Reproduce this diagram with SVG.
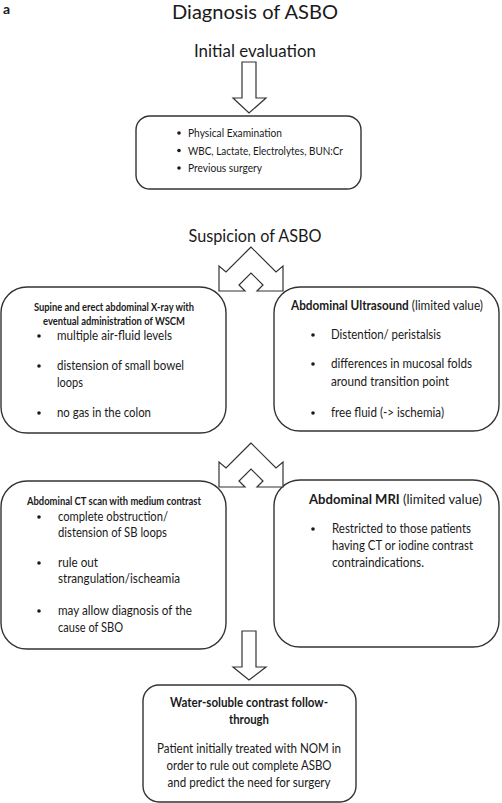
<svg xmlns="http://www.w3.org/2000/svg" width="502" height="803" viewBox="0 0 502 803">
<style>
text{font-family:Lato,"Liberation Sans",sans-serif;fill:#1a1a1a}
.box{fill:#fff;stroke:#333;stroke-width:1.4}
.arr{fill:#fff;stroke:#333;stroke-width:1.2;stroke-linejoin:miter}
.h1{font-size:18.5px}
.h2{font-size:17px}
.b{font-size:12.5px}
.bd{font-weight:bold}
.c{font-size:12px}
.m{font-size:13.5px}
.dot{fill:#1a1a1a}
</style>
<rect width="502" height="803" fill="#fff"/>
<g id="labels">
<text x="3" y="14" font-size="14" font-weight="bold">a</text>
<text x="255" y="19" class="h1" text-anchor="middle" textLength="166" lengthAdjust="spacingAndGlyphs">Diagnosis of ASBO</text>
<text x="255" y="57" class="h2" text-anchor="middle" textLength="122" lengthAdjust="spacingAndGlyphs">Initial evaluation</text>
<text x="255" y="242" class="h2" text-anchor="middle" textLength="133" lengthAdjust="spacingAndGlyphs">Suspicion of ASBO</text>
</g>
<g id="n-initial">
<rect class="box" x="136" y="116" width="225" height="73" rx="14"/>
<circle class="dot" cx="179" cy="133" r="1.8"/>
<circle class="dot" cx="179" cy="150.5" r="1.8"/>
<circle class="dot" cx="179" cy="168" r="1.8"/>
<text class="c" x="188" y="137" textLength="94" lengthAdjust="spacingAndGlyphs">Physical Examination</text>
<text class="c" x="188" y="154.5" textLength="155" lengthAdjust="spacingAndGlyphs">WBC, Lactate, Electrolytes, BUN:Cr</text>
<text class="c" x="188" y="172" textLength="74" lengthAdjust="spacingAndGlyphs">Previous surgery</text>
</g>
<g id="n-xray">
<rect class="box" x="1" y="287" width="225" height="146" rx="26"/>
<text class="c bd" x="114" y="311" text-anchor="middle" textLength="160" lengthAdjust="spacingAndGlyphs">Supine and erect abdominal X-ray with</text>
<text class="c bd" x="114" y="325" text-anchor="middle" textLength="142" lengthAdjust="spacingAndGlyphs">eventual administration of WSCM</text>
<circle class="dot" cx="39" cy="336" r="1.8"/>
<circle class="dot" cx="39" cy="366" r="1.8"/>
<circle class="dot" cx="39" cy="413" r="1.8"/>
<text class="b" x="57" y="340" textLength="115" lengthAdjust="spacingAndGlyphs">multiple air-fluid levels</text>
<text class="b" x="57" y="370" textLength="127" lengthAdjust="spacingAndGlyphs">distension of small bowel</text>
<text class="b" x="57" y="387" textLength="26" lengthAdjust="spacingAndGlyphs">loops</text>
<text class="b" x="57" y="417" textLength="94" lengthAdjust="spacingAndGlyphs">no gas in the colon</text>
</g>
<g id="n-us">
<rect class="box" x="274" y="287" width="225" height="144" rx="26"/>
<text class="b" x="291" y="310" textLength="192" lengthAdjust="spacingAndGlyphs"><tspan class="bd">Abdominal Ultrasound</tspan> (limited value)</text>
<circle class="dot" cx="313" cy="335" r="1.8"/>
<circle class="dot" cx="313" cy="364" r="1.8"/>
<circle class="dot" cx="313" cy="413" r="1.8"/>
<text class="b" x="331" y="339" textLength="110" lengthAdjust="spacingAndGlyphs">Distention/ peristalsis</text>
<text class="b" x="331" y="368" textLength="141" lengthAdjust="spacingAndGlyphs">differences in mucosal folds</text>
<text class="b" x="331" y="386" textLength="118" lengthAdjust="spacingAndGlyphs">around transition point</text>
<text class="b" x="331" y="417" textLength="113" lengthAdjust="spacingAndGlyphs">free fluid (-&gt; ischemia)</text>
</g>
<g id="n-ct">
<rect class="box" x="1" y="481" width="225" height="168" rx="26"/>
<text class="c bd" x="114" y="505" text-anchor="middle" textLength="174" lengthAdjust="spacingAndGlyphs">Abdominal CT scan with medium contrast</text>
<circle class="dot" cx="39" cy="517" r="1.8"/>
<circle class="dot" cx="39" cy="563" r="1.8"/>
<circle class="dot" cx="39" cy="611" r="1.8"/>
<text class="b" x="58" y="521" textLength="110" lengthAdjust="spacingAndGlyphs">complete obstruction/</text>
<text class="b" x="58" y="537" textLength="109" lengthAdjust="spacingAndGlyphs">distension of SB loops</text>
<text class="b" x="58" y="567" textLength="40" lengthAdjust="spacingAndGlyphs">rule out</text>
<text class="b" x="58" y="583" textLength="122" lengthAdjust="spacingAndGlyphs">strangulation/ischeamia</text>
<text class="b" x="58" y="615" textLength="134" lengthAdjust="spacingAndGlyphs">may allow diagnosis of the</text>
<text class="b" x="58" y="632" textLength="65" lengthAdjust="spacingAndGlyphs">cause of SBO</text>
</g>
<g id="n-mri">
<rect class="box" x="274" y="480" width="225" height="167" rx="26"/>
<text class="m" x="309" y="504" textLength="173" lengthAdjust="spacingAndGlyphs"><tspan class="bd">Abdominal MRI</tspan> (limited value)</text>
<circle class="dot" cx="313" cy="529" r="1.8"/>
<text class="b" x="332" y="533" textLength="139" lengthAdjust="spacingAndGlyphs">Restricted to those patients</text>
<text class="b" x="332" y="550" textLength="141" lengthAdjust="spacingAndGlyphs">having CT or iodine contrast</text>
<text class="b" x="332" y="567" textLength="92" lengthAdjust="spacingAndGlyphs">contraindications.</text>
</g>
<g id="n-wscft">
<rect class="box" x="143" y="685" width="213" height="117" rx="16"/>
<text class="b bd" x="249" y="707" text-anchor="middle" textLength="158" lengthAdjust="spacingAndGlyphs">Water-soluble contrast follow-</text>
<text class="b bd" x="249" y="724" text-anchor="middle" textLength="40" lengthAdjust="spacingAndGlyphs">through</text>
<text class="b" x="249" y="753" text-anchor="middle" textLength="184" lengthAdjust="spacingAndGlyphs">Patient initially treated with NOM in</text>
<text class="b" x="249" y="770" text-anchor="middle" textLength="165" lengthAdjust="spacingAndGlyphs">order to rule out complete ASBO</text>
<text class="b" x="249" y="787" text-anchor="middle" textLength="163" lengthAdjust="spacingAndGlyphs">and predict the need for surgery</text>
</g>
<g id="connectors">
<polygon class="arr" points="242,62 256,62 256,98 266,98 249,113 233,98 242,98"/>
<polygon class="arr" points="251,247 226,272 219,266 219,291 245,291 239,285 251,273 263,285 257,291 283,291 283,266 276,272"/>
<polygon class="arr" points="251,443 226,468 219,462 219,487 245,487 239,481 251,469 263,481 257,487 283,487 283,462 276,468"/>
<polygon class="arr" points="242,631 256,631 256,667 266,667 249,680 233,667 242,667"/>
</g>
</svg>
